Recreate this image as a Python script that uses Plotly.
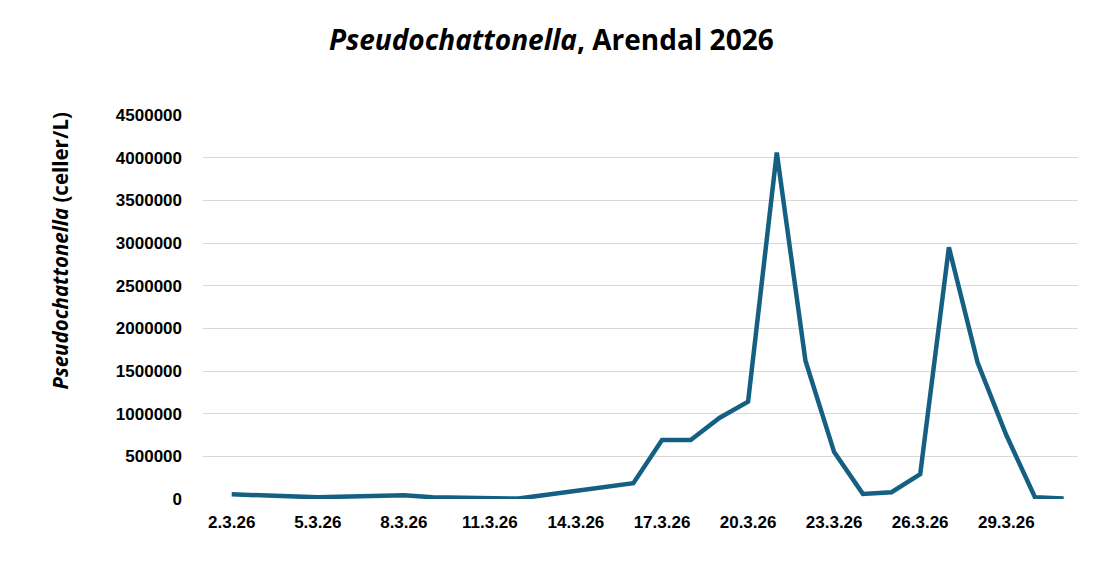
import plotly.graph_objects as go

# Sampling dates and cell counts (celler/L)
dates = [
    "2026-03-02", "2026-03-05", "2026-03-08", "2026-03-09", "2026-03-12",
    "2026-03-16", "2026-03-17", "2026-03-18", "2026-03-19", "2026-03-20",
    "2026-03-21", "2026-03-22", "2026-03-23", "2026-03-24", "2026-03-25",
    "2026-03-26", "2026-03-27", "2026-03-28", "2026-03-29", "2026-03-30",
    "2026-03-31",
]
counts = [
    55000, 20000, 45000, 20000, 5000,
    185000, 690000, 690000, 950000, 1140000,
    4060000, 1620000, 550000, 60000, 80000,
    290000, 2950000, 1600000, 750000, 20000,
    5000,
]

tick_dates = ["2026-03-02", "2026-03-05", "2026-03-08", "2026-03-11", "2026-03-14",
              "2026-03-17", "2026-03-20", "2026-03-23", "2026-03-26", "2026-03-29"]
tick_labels = ["2.3.26", "5.3.26", "8.3.26", "11.3.26", "14.3.26",
               "17.3.26", "20.3.26", "23.3.26", "26.3.26", "29.3.26"]
y_ticks = list(range(0, 4500001, 500000))

line_color = "#156082"
tick_font = dict(family="Liberation Sans, Arial", size=17, color="#000000", weight="bold")

fig = go.Figure()
fig.add_trace(go.Scatter(
    x=dates, y=counts, mode="lines",
    line=dict(color=line_color, width=4.5),
    showlegend=False,
))

# page body has an 8px margin, so the margins are shifted to compensate
fig.update_layout(
    width=1111, height=569,
    margin=dict(l=195, r=41, t=107, b=78),
    paper_bgcolor="white", plot_bgcolor="white",
    title=dict(
        text="<b><i>Pseudochattonella</i>, Arendal 2026</b>",
        x=0.489, xanchor="center", y=0.944, yanchor="middle",
        font=dict(family="Open Sans", size=28, color="#000000"),
    ),
)

fig.update_xaxes(
    type="date",
    range=["2026-03-01 00:00", "2026-03-31 12:00"],
    tickvals=tick_dates, ticktext=tick_labels,
    tickfont=tick_font, showgrid=False, zeroline=False,
    showline=False, ticks="", ticklabelstandoff=11,
)
fig.update_yaxes(
    range=[0, 4500000],
    tickvals=y_ticks, ticktext=[str(v) for v in y_ticks],
    tickfont=tick_font, showgrid=True, gridcolor="#d9d9d9", gridwidth=1.3,
    zeroline=False, showline=False, ticks="", ticklabelstandoff=20,
)

fig.add_annotation(
    text="<b><i>Pseudochattonella</i> (celler/L)</b>",
    xref="paper", yref="paper", x=-0.163, y=0.648,
    xanchor="center", yanchor="middle", textangle=-90, showarrow=False,
    font=dict(family="Open Sans", size=20.5, color="#000000"),
)

fig.write_html("out.html")
